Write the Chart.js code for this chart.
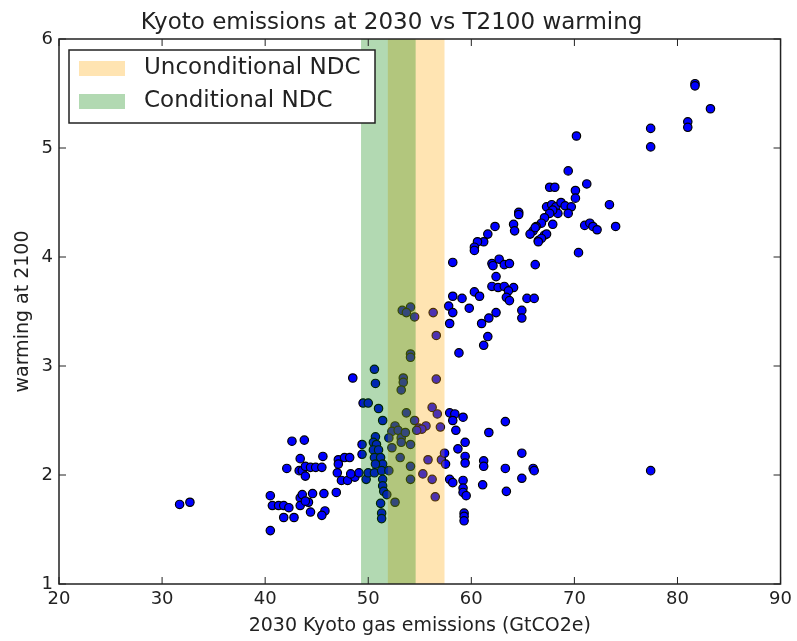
<!DOCTYPE html>
<html>
<head>
<meta charset="utf-8">
<title>Kyoto emissions at 2030 vs T2100 warming</title>
<script src="https://cdn.jsdelivr.net/npm/chart.js@4.4.1/dist/chart.umd.min.js"></script>
<style>
  html, body { margin: 0; padding: 0; background: #fff; }
  #wrap { width: 797px; height: 641px; }
</style>
</head>
<body>
<div id="wrap"><canvas id="chart" width="797" height="641"></canvas></div>
<script>
// scenario values: 2030 emissions (GtCO2e) and 2100 warming
const emissions = [
  31.7, 32.7, 40.5, 40.5, 40.7, 41.3, 41.8, 42.3, 41.8, 42.8, 43.4, 43.6, 44.2, 43.4, 44.4,
  44.6, 45.7, 46.9, 45.8, 45.5, 43.9, 42.6, 43.8, 43.4, 45.6, 42.1, 43.3, 43.6, 43.9, 44.4,
  44.9, 45.5, 43.9, 47.1, 47.7, 48.2, 47.1, 47.0, 47.4, 48.0, 48.7, 49.1, 48.3, 49.4, 49.4,
  49.8,
  48.5, 50.6, 50.7, 49.5, 50.0, 51.0, 51.4, 50.7, 50.5, 50.8, 50.5, 51.0, 50.6, 51.2, 51.4,
  50.7, 50.0, 50.6, 51.3, 52.0, 51.4, 51.4, 51.5, 51.8, 51.2, 51.3, 51.3, 52.6,
  53.3, 54.1, 54.5, 53.7, 54.1, 54.1, 53.4, 53.4, 53.2, 53.7, 54.5, 52.6, 52.3, 52.9, 52.0,
  53.2, 52.3, 53.2, 54.1, 53.6, 53.1, 54.1, 54.1, 54.9, 55.6, 55.2, 54.7,
  56.3, 56.6, 56.6, 56.2, 56.7, 57.0, 55.8, 55.3, 56.2, 56.5, 57.1,
  61.6, 61.2, 58.8, 57.9, 58.4, 59.2, 58.2, 58.5, 63.3, 61.7, 59.4, 57.4, 57.5, 58.7, 59.4,
  59.4, 61.2, 61.2, 63.3, 64.9, 64.9, 66.0, 66.1, 77.4, 57.9, 58.2, 59.2, 59.2, 59.2, 59.5,
  61.1, 63.4, 59.3, 59.3, 59.3,
  81.7, 81.7, 83.2, 81.0, 81.0, 77.4, 77.4, 70.2, 69.4, 71.2, 67.6, 68.1, 70.1, 70.1, 73.4,
  74.0, 71.0, 71.5, 71.8, 72.2, 70.4, 67.3, 67.8, 68.2, 68.7, 69.1, 69.7, 69.4, 68.4, 67.9,
  67.6, 67.1, 67.9, 66.8, 66.3, 66.0, 65.7, 66.5, 67.1, 67.3, 66.8, 66.5, 66.2, 64.6, 64.6,
  64.1, 64.2, 62.3, 61.6, 61.2, 60.6, 60.3, 60.3, 58.2, 66.2, 62.0, 62.1, 62.7, 63.2, 63.7,
  62.4, 62.0, 62.6, 63.2, 64.1, 63.6, 63.4, 63.7, 60.3, 60.8, 59.1, 58.2, 65.4, 66.1, 59.8,
  57.8, 58.2, 62.4, 61.7, 61.0, 64.9, 64.9, 57.9
];
const warming = [
  1.73, 1.75, 1.49, 1.81, 1.72, 1.72, 1.72, 1.70, 1.61, 1.61, 1.79, 1.82, 1.75, 1.72, 1.66,
  1.83, 1.83, 1.84, 1.67, 1.63, 1.76, 2.31, 2.32, 2.15, 2.17, 2.06, 2.04, 2.04, 2.08, 2.07,
  2.07, 2.07, 1.99, 2.14, 2.16, 2.16, 2.10, 2.02, 1.95, 1.95, 1.98, 2.02, 2.01, 2.28, 2.19,
  1.96,
  2.89, 2.97, 2.84, 2.66, 2.66, 2.61, 2.50, 2.35, 2.30, 2.28, 2.23, 2.23, 2.16, 2.16, 2.10,
  2.10, 2.02, 2.02, 2.04, 2.04, 1.96, 1.90, 1.85, 1.82, 1.74, 1.65, 1.60, 1.75,
  3.51, 3.54, 3.45, 3.49, 3.11, 3.08, 2.89, 2.85, 2.78, 2.57, 2.50, 2.45, 2.40, 2.41, 2.34,
  2.34, 2.25, 2.30, 2.28, 2.39, 2.16, 2.08, 1.96, 2.43, 2.45, 2.42, 2.41,
  3.49, 3.28, 2.88, 2.62, 2.56, 2.44, 2.14, 2.01, 1.96, 1.80, 2.14,
  3.27, 3.19, 3.12, 2.57, 2.56, 2.53, 2.50, 2.41, 2.49, 2.39, 2.30, 2.20, 2.10, 2.24, 2.17,
  2.11, 2.13, 2.08, 2.06, 2.20, 1.97, 2.06, 2.04, 2.04, 1.96, 1.93, 1.95, 1.88, 1.84, 1.81,
  1.91, 1.85, 1.65, 1.62, 1.58,
  5.59, 5.57, 5.36, 5.24, 5.19, 5.18, 5.01, 5.11, 4.79, 4.67, 4.64, 4.64, 4.61, 4.54, 4.48,
  4.28, 4.29, 4.31, 4.28, 4.25, 4.04, 4.46, 4.48, 4.46, 4.50, 4.47, 4.46, 4.40, 4.40, 4.43,
  4.40, 4.36, 4.30, 4.31, 4.28, 4.24, 4.21, 4.15, 4.20, 4.21, 4.17, 4.14, 4.27, 4.41, 4.39,
  4.30, 4.24, 4.28, 4.21, 4.14, 4.14, 4.09, 4.06, 3.95, 3.93, 3.94, 3.92, 3.98, 3.93, 3.94,
  3.82, 3.73, 3.72, 3.73, 3.72, 3.69, 3.63, 3.60, 3.68, 3.64, 3.62, 3.64, 3.62, 3.62, 3.53,
  3.55, 3.49, 3.49, 3.44, 3.39, 3.51, 3.44, 3.39
];

const xTicks = [20, 30, 40, 50, 60, 70, 80, 90];
const yTicks = [1, 2, 3, 4, 5, 6];

// NDC ranges of 2030 emissions
const bandLabels = ["Unconditional NDC", "Conditional NDC"];
const bandFrom = [51.9, 49.3];
const bandTo = [57.4, 54.6];
const bandColors = ["rgba(255, 165, 0, 0.3)", "rgba(0, 128, 0, 0.3)"];

const ink = "#222";
Chart.defaults.font.family = '"DejaVu Sans", sans-serif';
Chart.defaults.color = ink;

// shaded ranges, drawn over the points like axvspan
const bands = {
  id: "bands",
  afterDatasetsDraw(chart) {
    const { ctx, chartArea, scales } = chart;
    ctx.save();
    ctx.beginPath();
    ctx.rect(chartArea.left, chartArea.top, chartArea.width, chartArea.height);
    ctx.clip();
    bandLabels.forEach((label, i) => {
      const x0 = scales.x.getPixelForValue(bandFrom[i]);
      const x1 = scales.x.getPixelForValue(bandTo[i]);
      ctx.fillStyle = bandColors[i];
      ctx.fillRect(x0, chartArea.top, x1 - x0, chartArea.height);
    });
    ctx.restore();
  }
};

// box round the axes with inward ticks on all four sides
const frame = {
  id: "frame",
  afterDraw(chart) {
    const { ctx, chartArea: a, scales } = chart;
    const len = 7;
    ctx.save();
    ctx.strokeStyle = ink;
    ctx.lineWidth = 1.5;
    ctx.strokeRect(a.left, a.top, a.width, a.height);
    ctx.lineWidth = 1;
    ctx.beginPath();
    xTicks.forEach(v => {
      const px = scales.x.getPixelForValue(v);
      ctx.moveTo(px, a.bottom); ctx.lineTo(px, a.bottom - len);
      ctx.moveTo(px, a.top); ctx.lineTo(px, a.top + len);
    });
    yTicks.forEach(v => {
      const py = scales.y.getPixelForValue(v);
      ctx.moveTo(a.left, py); ctx.lineTo(a.left + len, py);
      ctx.moveTo(a.right, py); ctx.lineTo(a.right - len, py);
    });
    ctx.stroke();
    ctx.restore();
  }
};

// framed legend in the upper left corner of the axes
const legendBox = {
  id: "legendBox",
  afterDraw(chart) {
    const { ctx, chartArea: a } = chart;
    const x = a.left + 10, y = a.top + 11, w = 306, h = 73;
    ctx.save();
    ctx.fillStyle = "#fff";
    ctx.fillRect(x, y, w, h);
    ctx.strokeStyle = ink;
    ctx.lineWidth = 1.5;
    ctx.strokeRect(x, y, w, h);
    ctx.font = '23px "DejaVu Sans", sans-serif';
    ctx.textBaseline = "middle";
    bandLabels.forEach((label, i) => {
      const rowY = y + 18.5 + i * 33;
      ctx.fillStyle = bandColors[i];
      ctx.fillRect(x + 10, rowY - 7.5, 46, 15);
      ctx.fillStyle = ink;
      ctx.fillText(label, x + 75, rowY);
    });
    ctx.restore();
  }
};

new Chart(document.getElementById("chart"), {
  type: "scatter",
  data: {
    datasets: [{
      data: emissions.map((e, i) => ({ x: e, y: warming[i] })),
      backgroundColor: "rgb(0, 0, 255)",
      borderColor: "#000",
      borderWidth: 1.2,
      pointRadius: 4.2,
      pointHoverRadius: 4.2
    }]
  },
  options: {
    responsive: false,
    animation: false,
    devicePixelRatio: 1,
    layout: { padding: { left: 0, right: 14, top: 0, bottom: 0 } },
    plugins: {
      legend: { display: false },
      tooltip: { enabled: false },
      title: {
        display: true,
        text: "Kyoto emissions at 2030 vs T2100 warming",
        font: { size: 23, weight: "normal" },
        color: ink,
        padding: { top: 9, bottom: 2.4 }
      }
    },
    scales: {
      x: {
        type: "linear",
        min: 20,
        max: 90,
        afterBuildTicks: s => { s.ticks = xTicks.map(v => ({ value: v })); },
        afterFit: s => { s.height = 57; },
        grid: { display: false, drawTicks: false },
        border: { display: false },
        ticks: { font: { size: 18 }, padding: 5, color: ink },
        title: {
          display: true,
          text: "2030 Kyoto gas emissions (GtCO2e)",
          font: { size: 19 },
          color: ink,
          padding: { top: 0, bottom: 4 }
        }
      },
      y: {
        type: "linear",
        min: 1,
        max: 6,
        afterBuildTicks: s => { s.ticks = yTicks.map(v => ({ value: v })); },
        afterFit: s => { s.width = 59; },
        grid: { display: false, drawTicks: false },
        border: { display: false },
        ticks: { font: { size: 18 }, padding: 6, color: ink },
        title: {
          display: true,
          text: "warming at 2100",
          font: { size: 19 },
          color: ink,
          padding: { top: 11.5, bottom: 0 }
        }
      }
    }
  },
  plugins: [bands, frame, legendBox]
});
</script>
</body>
</html>
